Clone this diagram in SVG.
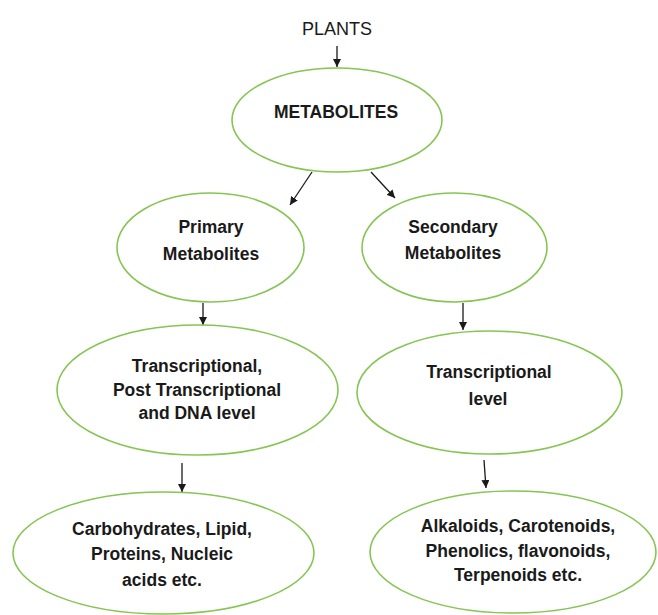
<svg xmlns="http://www.w3.org/2000/svg" width="658" height="615" viewBox="0 0 658 615">
<style>
.n{fill:#fff;stroke:#86c553;stroke-width:1.6}
.t{font-family:"Liberation Sans",Arial,sans-serif;font-weight:bold;font-size:17.5px;fill:#1a1a1a;text-anchor:middle}
.p{font-family:"Liberation Sans",Arial,sans-serif;font-size:18px;fill:#1a1a1a;text-anchor:middle}
.c{stroke:#1a1a1a;stroke-width:1.3;fill:none;marker-end:url(#a)}
</style>
<defs>
<marker id="a" viewBox="0 0 10 10" refX="10" refY="5" markerWidth="8" markerHeight="8" markerUnits="userSpaceOnUse" orient="auto">
<path d="M0,0 L10,5 L0,10 z" fill="#1a1a1a"/>
</marker>
</defs>
<rect width="658" height="615" fill="#fff"/>
<g id="connectors">
<line class="c" x1="337" y1="46" x2="337" y2="67"/>
<line class="c" x1="312" y1="172" x2="290" y2="205"/>
<line class="c" x1="371" y1="172" x2="395" y2="198"/>
<line class="c" x1="203" y1="303" x2="203" y2="325"/>
<line class="c" x1="463" y1="303" x2="463" y2="330"/>
<line class="c" x1="182" y1="463" x2="182" y2="492"/>
<line class="c" x1="484" y1="460" x2="486" y2="488"/>
</g>
<g id="plants"><text class="p" x="337" y="35">PLANTS</text></g>
<g id="metabolites">
<ellipse class="n" cx="337" cy="120" rx="105" ry="52"/>
<text class="t" x="336" y="118">METABOLITES</text>
</g>
<g id="primary">
<ellipse class="n" cx="210.5" cy="247.5" rx="93.5" ry="54.5"/>
<text class="t" x="211" y="233">Primary</text>
<text class="t" x="211" y="260">Metabolites</text>
</g>
<g id="secondary">
<ellipse class="n" cx="454.5" cy="247.5" rx="92.5" ry="54.5"/>
<text class="t" x="453" y="233">Secondary</text>
<text class="t" x="453" y="259">Metabolites</text>
</g>
<g id="primary-level">
<ellipse class="n" cx="197.5" cy="390" rx="140.5" ry="65"/>
<text class="t" x="197" y="372">Transcriptional,</text>
<text class="t" x="197" y="396">Post Transcriptional</text>
<text class="t" x="197" y="419">and DNA level</text>
</g>
<g id="secondary-level">
<ellipse class="n" cx="489.5" cy="392.5" rx="132.5" ry="61.5"/>
<text class="t" x="489" y="378">Transcriptional</text>
<text class="t" x="488" y="405">level</text>
</g>
<g id="primary-examples">
<ellipse class="n" cx="163.5" cy="553" rx="150.5" ry="61"/>
<text class="t" x="162" y="535">Carbohydrates, Lipid,</text>
<text class="t" x="162" y="560">Proteins, Nucleic</text>
<text class="t" x="162" y="586">acids etc.</text>
</g>
<g id="secondary-examples">
<ellipse class="n" cx="513" cy="552" rx="143" ry="61"/>
<text class="t" x="518" y="532">Alkaloids, Carotenoids,</text>
<text class="t" x="518" y="557">Phenolics, flavonoids,</text>
<text class="t" x="518" y="581">Terpenoids etc.</text>
</g>
</svg>
